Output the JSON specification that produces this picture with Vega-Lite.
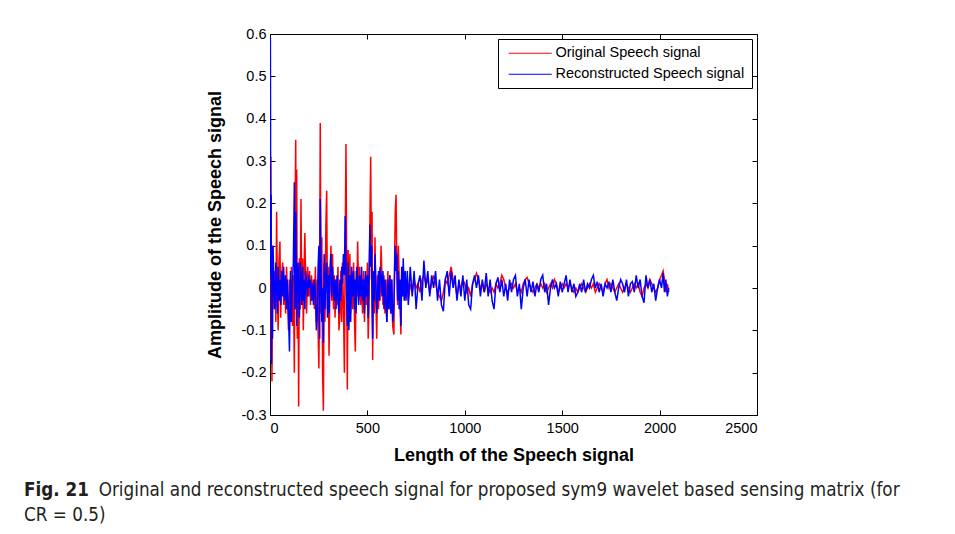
{
"$schema": "https://vega.github.io/schema/vega-lite/v6.json",
"width": 487, "height": 381,
"autosize": {"type": "none"},
"padding": {"left": 270, "top": 34, "right": 198, "bottom": 119},
"background": "white",
"config": {"view": {"stroke": "black", "strokeWidth": 1}, "font": "Liberation Sans"},
"title": {
  "text": "Fig. 21",
  "subtitle": ["\u200b\u00a0\u00a0\u00a0\u00a0\u00a0\u00a0\u00a0\u00a0\u00a0\u00a0\u00a0\u00a0\u00a0\u00a0Original and reconstructed speech signal for proposed sym9 wavelet based sensing matrix (for", "CR = 0.5)"],
  "orient": "bottom", "anchor": "start", "frame": "group", "dx": -246, "offset": 16,
  "font": "DejaVu Sans Condensed, sans-serif", "fontSize": 18.7, "fontWeight": "bold", "color": "#231f20",
  "subtitleFont": "DejaVu Sans Condensed, sans-serif", "subtitleFontSize": 18.7, "subtitleFontWeight": "normal", "subtitleColor": "#231f20",
  "subtitlePadding": -18.7, "subtitleLineHeight": 25
},
"data": {"values": [
{"s":0,"o":0.06,"r":0.03},{"s":2,"o":0.10,"r":0.59},{"s":4,"o":0.31,"r":0.05},{"s":6,"o":-0.17,"r":0.22},{"s":8,"o":0.02,"r":-0.18},{"s":10,"o":-0.22,"r":0.10},{"s":13,"o":0.09,"r":-0.12},{"s":15,"o":0.10,"r":0.10},{"s":20,"o":-0.05,"r":0.02},{"s":25,"o":0.04,"r":-0.05},{"s":30,"o":-0.08,"r":0.06},{"s":34,"o":0.18,"r":0.01},{"s":38,"o":-0.02,"r":-0.06},{"s":42,"o":-0.10,"r":0.05},{"s":46,"o":0.06,"r":-0.03},{"s":51,"o":0.11,"r":0.02},{"s":55,"o":-0.07,"r":-0.04},{"s":60,"o":0.03,"r":0.04},{"s":65,"o":0.06,"r":-0.02},{"s":70,"o":-0.04,"r":0.05},{"s":75,"o":0.02,"r":-0.03},{"s":80,"o":-0.06,"r":0.03},{"s":85,"o":0.05,"r":-0.05},{"s":90,"o":-0.03,"r":0.02},{"s":95,"o":-0.10,"r":-0.06},{"s":100,"o":0.02,"r":-0.15},{"s":105,"o":-0.06,"r":0.04},{"s":110,"o":0.05,"r":-0.08},{"s":115,"o":-0.09,"r":0.01},{"s":120,"o":0.03,"r":0.06},{"s":125,"o":-0.20,"r":0.25},{"s":128,"o":0.15,"r":-0.05},{"s":132,"o":0.35,"r":0.18},{"s":135,"o":-0.05,"r":0.08},{"s":137,"o":0.28,"r":-0.09},{"s":140,"o":-0.12,"r":0.02},{"s":144,"o":0.05,"r":0.06},{"s":147,"o":-0.28,"r":-0.02},{"s":151,"o":0.07,"r":-0.07},{"s":155,"o":-0.05,"r":0.06},{"s":159,"o":0.21,"r":0.02},{"s":163,"o":-0.04,"r":-0.04},{"s":167,"o":0.07,"r":0.05},{"s":171,"o":-0.10,"r":-0.03},{"s":175,"o":0.04,"r":0.02},{"s":179,"o":0.13,"r":-0.05},{"s":183,"o":0.02,"r":0.04},{"s":188,"o":-0.06,"r":0.01},{"s":193,"o":0.05,"r":-0.02},{"s":198,"o":-0.02,"r":0.03},{"s":203,"o":0.04,"r":0.00},{"s":208,"o":-0.04,"r":0.02},{"s":213,"o":0.03,"r":-0.03},{"s":218,"o":-0.03,"r":0.01},{"s":223,"o":0.02,"r":-0.04},{"s":228,"o":-0.05,"r":0.02},{"s":233,"o":0.05,"r":-0.01},{"s":238,"o":-0.08,"r":-0.10},{"s":243,"o":0.02,"r":-0.06},{"s":247,"o":-0.10,"r":0.05},{"s":251,"o":-0.19,"r":0.10},{"s":255,"o":0.05,"r":-0.12},{"s":258,"o":0.39,"r":0.21},{"s":262,"o":-0.06,"r":0.04},{"s":266,"o":0.12,"r":-0.08},{"s":270,"o":-0.20,"r":0.00},{"s":274,"o":-0.29,"r":-0.13},{"s":278,"o":0.06,"r":0.08},{"s":282,"o":-0.08,"r":-0.05},{"s":287,"o":0.15,"r":0.03},{"s":291,"o":0.23,"r":0.06},{"s":295,"o":-0.05,"r":-0.07},{"s":299,"o":0.05,"r":0.03},{"s":303,"o":-0.16,"r":-0.06},{"s":308,"o":0.02,"r":0.04},{"s":313,"o":0.10,"r":0.08},{"s":317,"o":-0.03,"r":-0.02},{"s":321,"o":0.08,"r":0.05},{"s":326,"o":-0.05,"r":0.00},{"s":330,"o":0.03,"r":-0.03},{"s":334,"o":-0.07,"r":0.02},{"s":339,"o":0.02,"r":-0.05},{"s":344,"o":-0.04,"r":0.03},{"s":349,"o":0.05,"r":-0.02},{"s":354,"o":-0.10,"r":-0.06},{"s":359,"o":-0.06,"r":0.02},{"s":364,"o":0.04,"r":-0.03},{"s":368,"o":-0.08,"r":0.05},{"s":372,"o":0.06,"r":0.01},{"s":377,"o":-0.04,"r":0.08},{"s":382,"o":-0.20,"r":0.03},{"s":386,"o":0.10,"r":0.17},{"s":390,"o":0.34,"r":0.05},{"s":394,"o":0.02,"r":-0.04},{"s":397,"o":-0.24,"r":-0.09},{"s":401,"o":0.09,"r":0.06},{"s":405,"o":-0.04,"r":-0.10},{"s":410,"o":0.08,"r":0.03},{"s":414,"o":-0.06,"r":-0.08},{"s":419,"o":0.03,"r":0.05},{"s":424,"o":-0.05,"r":-0.02},{"s":429,"o":0.06,"r":0.04},{"s":434,"o":-0.08,"r":-0.05},{"s":438,"o":-0.15,"r":0.02},{"s":442,"o":0.04,"r":-0.06},{"s":446,"o":-0.02,"r":0.05},{"s":450,"o":0.11,"r":0.02},{"s":455,"o":-0.03,"r":-0.04},{"s":460,"o":0.05,"r":0.03},{"s":465,"o":-0.04,"r":-0.02},{"s":470,"o":0.02,"r":0.05},{"s":475,"o":-0.06,"r":-0.03},{"s":480,"o":0.04,"r":0.02},{"s":485,"o":-0.08,"r":-0.06},{"s":490,"o":0.03,"r":0.04},{"s":495,"o":-0.04,"r":-0.02},{"s":500,"o":0.06,"r":0.03},{"s":504,"o":-0.12,"r":-0.07},{"s":508,"o":-0.05,"r":0.02},{"s":513,"o":0.16,"r":0.15},{"s":517,"o":0.31,"r":0.05},{"s":521,"o":0.02,"r":0.10},{"s":524,"o":0.18,"r":-0.05},{"s":527,"o":-0.17,"r":-0.12},{"s":531,"o":0.03,"r":0.04},{"s":535,"o":-0.06,"r":-0.03},{"s":539,"o":0.12,"r":0.08},{"s":543,"o":-0.02,"r":0.02},{"s":548,"o":-0.12,"r":-0.06},{"s":552,"o":0.03,"r":-0.02},{"s":557,"o":-0.05,"r":0.04},{"s":561,"o":0.04,"r":-0.03},{"s":565,"o":-0.03,"r":0.05},{"s":570,"o":0.10,"r":0.03},{"s":575,"o":0.02,"r":-0.02},{"s":580,"o":-0.04,"r":0.04},{"s":585,"o":0.03,"r":-0.05},{"s":590,"o":-0.06,"r":0.02},{"s":595,"o":0.02,"r":-0.04},{"s":600,"o":-0.08,"r":-0.08},{"s":605,"o":0.04,"r":0.02},{"s":610,"o":-0.05,"r":-0.05},{"s":615,"o":0.03,"r":0.03},{"s":620,"o":-0.06,"r":-0.06},{"s":625,"o":0.02,"r":0.02},{"s":630,"o":-0.09,"r":-0.08},{"s":636,"o":-0.11,"r":-0.04},{"s":640,"o":0.08,"r":0.05},{"s":643,"o":0.18,"r":0.10},{"s":647,"o":0.22,"r":0.04},{"s":651,"o":0.05,"r":0.08},{"s":655,"o":-0.04,"r":-0.03},{"s":659,"o":0.10,"r":0.04},{"s":663,"o":0.02,"r":-0.05},{"s":667,"o":-0.03,"r":0.02},{"s":672,"o":-0.11,"r":-0.09},{"s":676,"o":0.03,"r":0.05},{"s":680,"o":-0.02,"r":-0.02},{"s":684,"o":0.05,"r":0.07},{"s":689,"o":0.00,"r":-0.03},{"s":694,"o":0.03,"r":0.04},{"s":698,"o":-0.02,"r":-0.03},
{"s":705,"o":0.02,"r":0.04},{"s":710,"o":-0.03,"r":-0.04},{"s":720,"o":0.01,"r":0.05},{"s":730,"o":-0.01,"r":-0.02},{"s":740,"o":0.02,"r":0.04},{"s":750,"o":0.00,"r":-0.05},{"s":760,"o":0.01,"r":0.01},{"s":770,"o":-0.01,"r":0.03},{"s":780,"o":0.02,"r":-0.03},{"s":790,"o":0.03,"r":0.065},{"s":800,"o":0.01,"r":0.00},{"s":810,"o":0.02,"r":0.04},{"s":820,"o":-0.01,"r":-0.02},{"s":830,"o":0.01,"r":0.03},{"s":840,"o":0.03,"r":0.00},{"s":850,"o":0.01,"r":0.04},{"s":860,"o":-0.01,"r":-0.03},{"s":870,"o":-0.02,"r":0.02},{"s":880,"o":-0.03,"r":-0.04},{"s":890,"o":-0.01,"r":-0.055},{"s":900,"o":0.02,"r":0.02},{"s":910,"o":0.01,"r":0.04},{"s":920,"o":0.03,"r":-0.02},{"s":930,"o":0.05,"r":0.04},{"s":940,"o":0.02,"r":0.00},{"s":950,"o":0.01,"r":0.03},{"s":960,"o":-0.02,"r":-0.03},{"s":970,"o":0.01,"r":0.02},{"s":980,"o":0.00,"r":-0.02},{"s":990,"o":0.02,"r":0.03},{"s":1000,"o":0.01,"r":-0.03},{"s":1010,"o":-0.01,"r":0.02},{"s":1020,"o":0.00,"r":-0.04},{"s":1030,"o":-0.02,"r":-0.05},{"s":1040,"o":0.01,"r":0.01},{"s":1050,"o":0.02,"r":0.03},{"s":1060,"o":0.035,"r":0.00},{"s":1070,"o":0.02,"r":0.03},{"s":1080,"o":0.00,"r":-0.02},{"s":1090,"o":0.01,"r":0.02},{"s":1100,"o":-0.01,"r":-0.01},{"s":1110,"o":0.01,"r":0.035},{"s":1120,"o":0.00,"r":-0.02},{"s":1130,"o":-0.01,"r":0.02},{"s":1140,"o":0.00,"r":-0.03},{"s":1150,"o":-0.01,"r":-0.05},{"s":1160,"o":0.01,"r":0.01},{"s":1170,"o":0.00,"r":0.025},{"s":1180,"o":0.01,"r":-0.01},{"s":1190,"o":0.03,"r":0.02},{"s":1200,"o":0.02,"r":-0.02},{"s":1210,"o":0.00,"r":0.01},{"s":1220,"o":-0.01,"r":-0.03},{"s":1230,"o":0.00,"r":0.02},{"s":1240,"o":0.01,"r":-0.01},{"s":1250,"o":0.00,"r":0.02},{"s":1260,"o":0.01,"r":0.03},{"s":1270,"o":-0.01,"r":-0.02},{"s":1280,"o":0.00,"r":0.01},{"s":1290,"o":-0.01,"r":-0.05},{"s":1300,"o":0.01,"r":0.00},{"s":1310,"o":0.02,"r":0.02},{"s":1320,"o":0.025,"r":-0.02},{"s":1330,"o":0.01,"r":0.02},{"s":1340,"o":0.00,"r":-0.01},{"s":1350,"o":-0.01,"r":0.015},{"s":1360,"o":0.00,"r":-0.02},{"s":1370,"o":0.01,"r":0.01},{"s":1380,"o":0.00,"r":-0.01},{"s":1390,"o":0.01,"r":0.02},{"s":1400,"o":0.00,"r":0.03},{"s":1410,"o":0.01,"r":-0.01},{"s":1420,"o":-0.01,"r":0.01},{"s":1430,"o":0.00,"r":-0.04},{"s":1440,"o":0.01,"r":0.00},{"s":1450,"o":0.00,"r":0.02},{"s":1460,"o":0.02,"r":0.00},{"s":1470,"o":0.01,"r":0.01},{"s":1480,"o":-0.01,"r":-0.02},{"s":1490,"o":0.00,"r":0.015},{"s":1500,"o":0.01,"r":-0.01},{"s":1510,"o":0.00,"r":0.01},{"s":1520,"o":0.01,"r":0.03},{"s":1530,"o":0.00,"r":-0.01},{"s":1540,"o":0.01,"r":0.02},{"s":1550,"o":0.00,"r":-0.01},{"s":1560,"o":-0.01,"r":0.01},{"s":1570,"o":0.00,"r":-0.02},{"s":1580,"o":-0.01,"r":-0.01},{"s":1590,"o":0.00,"r":0.01},{"s":1600,"o":0.01,"r":-0.01},{"s":1610,"o":0.00,"r":0.02},{"s":1620,"o":-0.01,"r":-0.01},{"s":1630,"o":0.00,"r":0.01},{"s":1640,"o":0.01,"r":0.00},{"s":1650,"o":0.00,"r":0.02},{"s":1660,"o":0.01,"r":0.03},{"s":1670,"o":-0.01,"r":0.00},{"s":1680,"o":0.00,"r":0.015},{"s":1690,"o":0.01,"r":-0.01},{"s":1700,"o":0.00,"r":0.01},{"s":1710,"o":-0.01,"r":-0.02},{"s":1720,"o":0.01,"r":0.01},{"s":1730,"o":0.02,"r":0.00},{"s":1740,"o":0.00,"r":0.015},{"s":1750,"o":0.01,"r":-0.01},{"s":1760,"o":0.00,"r":0.02},{"s":1770,"o":-0.01,"r":-0.01},{"s":1780,"o":0.00,"r":-0.03},{"s":1790,"o":0.01,"r":0.00},{"s":1800,"o":0.00,"r":0.02},{"s":1810,"o":-0.01,"r":0.01},{"s":1820,"o":0.00,"r":-0.01},{"s":1830,"o":0.01,"r":0.02},{"s":1840,"o":0.00,"r":-0.02},{"s":1850,"o":-0.01,"r":0.01},{"s":1860,"o":0.00,"r":0.015},{"s":1870,"o":0.01,"r":-0.01},{"s":1880,"o":0.00,"r":0.03},{"s":1890,"o":0.01,"r":0.00},{"s":1900,"o":-0.01,"r":0.02},{"s":1910,"o":-0.02,"r":-0.02},{"s":1920,"o":0.00,"r":-0.035},{"s":1930,"o":0.01,"r":0.03},{"s":1940,"o":0.00,"r":0.00},{"s":1950,"o":0.02,"r":0.02},{"s":1960,"o":0.01,"r":-0.01},{"s":1970,"o":0.00,"r":0.01},{"s":1980,"o":-0.01,"r":-0.03},{"s":1990,"o":0.00,"r":0.00},{"s":2000,"o":0.02,"r":0.02},{"s":2010,"o":0.03,"r":0.00},{"s":2018,"o":0.04,"r":0.035},{"s":2025,"o":0.02,"r":-0.01},{"s":2032,"o":-0.01,"r":0.02},{"s":2040,"o":0.01,"r":-0.02},{"s":2047,"o":-0.01,"r":0.00}
]},
"transform": [{"fold": ["o", "r"], "as": ["key", "value"]}],
"layer": [
  {
    "transform": [{"filter": "datum.key == 'o'"}],
    "mark": {"type": "line", "strokeWidth": 1.5, "clip": true},
    "encoding": {
      "x": {"field": "s", "type": "quantitative", "scale": {"domain": [0, 2500], "nice": false, "zero": false},
        "axis": {"orient": "bottom", "values": [0, 500, 1000, 1500, 2000, 2500], "format": "d", "grid": false, "domain": false, "tickColor": "black", "tickSize": -5, "labelPadding": 11, "labelColor": "black", "labelFontSize": 14.5, "labelFont": "Liberation Sans", "title": "Length of the Speech signal", "titleFont": "Liberation Sans", "titleFontSize": 18, "titleFontWeight": "bold", "titleColor": "black", "titlePadding": 12}},
      "y": {"field": "value", "type": "quantitative", "scale": {"domain": [-0.3, 0.6], "nice": false, "zero": false},
        "axis": {"orient": "left", "values": [-0.3, -0.2, -0.1, 0, 0.1, 0.2, 0.3, 0.4, 0.5, 0.6], "labelExpr": "datum.value < 0 ? '-' + format(-datum.value, '.1~f') : format(datum.value, '.1~f')", "grid": false, "domain": false, "tickColor": "black", "tickSize": -5, "labelPadding": 9, "labelColor": "black", "labelFontSize": 14.5, "labelFont": "Liberation Sans", "title": "Amplitude of the Speech signal", "titleFont": "Liberation Sans", "titleFontSize": 18, "titleFontWeight": "bold", "titleColor": "black", "titlePadding": 17}},
      "color": {"field": "key", "type": "nominal", "scale": {"domain": ["o", "r"], "range": ["#ff0000", "#0000ff"]},
        "legend": {"orient": "top-right", "offset": 5, "title": null, "labelExpr": "datum.value == 'o' ? 'Original Speech signal' : 'Reconstructed Speech signal'", "strokeColor": "black", "fillColor": "white", "padding": 7, "symbolType": "M-4,0H4", "symbolSize": 116, "symbolStrokeWidth": 1, "symbolOffset": 18, "labelFont": "Liberation Sans", "labelFontSize": 14.5, "labelColor": "black", "labelLimit": 400, "rowPadding": 6, "labelOffset": 18}}
    }
  },
  {
    "transform": [{"filter": "datum.key == 'r'"}],
    "mark": {"type": "line", "strokeWidth": 1.5, "clip": true},
    "encoding": {
      "x": {"field": "s", "type": "quantitative",
        "axis": {"orient": "top", "values": [0, 500, 1000, 1500, 2000, 2500], "grid": false, "domain": false, "tickColor": "black", "tickSize": -5, "labels": false, "title": null}},
      "y": {"field": "value", "type": "quantitative",
        "axis": {"orient": "right", "values": [-0.3, -0.2, -0.1, 0, 0.1, 0.2, 0.3, 0.4, 0.5, 0.6], "grid": false, "domain": false, "tickColor": "black", "tickSize": -5, "labels": false, "title": null}},
      "color": {"field": "key", "type": "nominal"}
    }
  }
],
"resolve": {"axis": {"x": "independent", "y": "independent"}}
}
